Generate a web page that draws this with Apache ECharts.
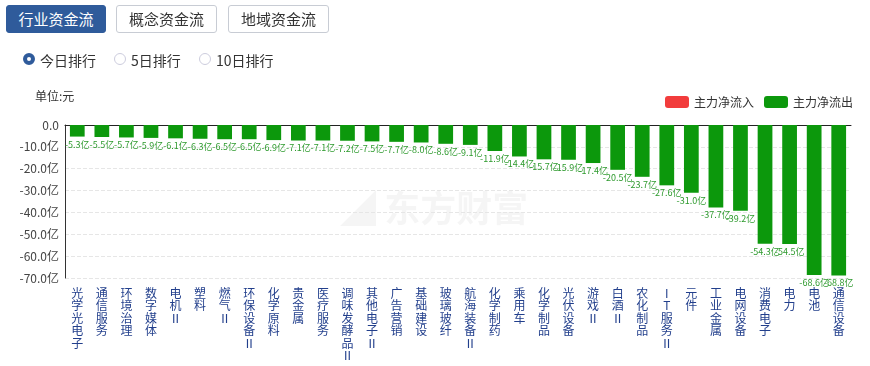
<!DOCTYPE html>
<html><head><meta charset="utf-8">
<script src="https://cdn.jsdelivr.net/npm/echarts@6/dist/echarts.min.js"></script>
<style>
html,body{margin:0;padding:0;background:#fff;font-family:"Noto Sans CJK SC","Noto Sans",sans-serif;}
#wrap{position:relative;width:870px;height:366px;overflow:hidden;}
#chart{position:absolute;left:0;top:0;width:870px;height:366px;}
.tab{position:absolute;top:5px;height:28px;width:99px;border:1px solid #c8ccd4;border-radius:3px;box-sizing:border-box;font-size:15px;line-height:26px;text-align:center;color:#333;background:#fff;z-index:2;}
.tab.on{background:#2f5b9b;border-color:#2f5b9b;color:#fff;}
.radio{position:absolute;top:52px;font-size:14px;color:#333;z-index:2;line-height:16px;}
.radio i{position:absolute;left:-17px;top:1px;width:12px;height:12px;border-radius:50%;border:1px solid #ccd;box-sizing:border-box;background:#fff;}
.radio.on i{border:4px solid #2f5b9b;}
</style></head>
<body><div id="wrap">
<div id="chart"></div>
<div class="tab on" style="left:6px;width:100px">行业资金流</div>
<div class="tab" style="left:116px;width:101px">概念资金流</div>
<div class="tab" style="left:228px;width:101px">地域资金流</div>
<div class="radio on" style="left:40px"><i></i>今日排行</div>
<div class="radio" style="left:131px"><i></i>5日排行</div>
<div class="radio" style="left:216px"><i></i>10日排行</div>
</div>
<script>
const categories = ["光学光电子","通信服务","环境治理","数字媒体","电机Ⅱ","塑料","燃气Ⅱ","环保设备Ⅱ","化学原料","贵金属","医疗服务","调味发酵品Ⅱ","其他电子Ⅱ","广告营销","基础建设","玻璃玻纤","航海装备Ⅱ","化学制药","乘用车","化学制品","光伏设备","游戏Ⅱ","白酒Ⅱ","农化制品","IT服务Ⅱ","元件","工业金属","电网设备","消费电子","电力","电池","通信设备"];
const netFlow = [-5.3,-5.5,-5.7,-5.9,-6.1,-6.3,-6.5,-6.5,-6.9,-7.1,-7.1,-7.2,-7.5,-7.7,-8.0,-8.6,-9.1,-11.9,-14.4,-15.7,-15.9,-17.4,-20.5,-23.7,-27.6,-31.0,-37.7,-39.2,-54.3,-54.5,-68.6,-68.8];
const yTicks = [-70,-60,-50,-40,-30,-20,-10,0];
const legendNames = ["主力净流入","主力净流出"];
const unitText = "单位:元";
const watermark = "东方财富";

const inflow = netFlow.map(v => v > 0 ? v : '-');
const outflow = netFlow.map(v => v < 0 ? v : '-');
const chart = echarts.init(document.getElementById('chart'));
const barLabel = {show:true, position:'bottom', distance:3, fontSize:9, color:'#2e9a2e', fontFamily:'"Noto Sans CJK SC",sans-serif', formatter: p => p.value.toFixed(1) + '亿'};
chart.setOption({
  animation:false,
  textStyle:{fontFamily:'"Noto Sans CJK SC","Noto Sans",sans-serif'},
  graphic:[
    {type:'text', left:35, top:90, style:{text:unitText, fontSize:12, fill:'#333', fontFamily:'"Noto Sans CJK SC",sans-serif'}},
    {type:'text', left:340, top:190, z:-1, style:{text:'◢ ' + watermark, fontSize:36, fontWeight:'bold', fill:'rgba(0,0,0,0.04)', fontFamily:'"Noto Sans CJK SC",sans-serif'}}
  ],
  legend:{right:12, top:91, itemWidth:24, itemHeight:12, itemGap:10, icon:'roundRect', data:legendNames, textStyle:{fontSize:12, color:'#333'}},
  grid:{left:65, right:19, top:125, bottom:88},
  xAxis:[{
    type:'category', data:categories, position:'bottom',
    axisLine:{show:false, onZero:false}, axisTick:{show:false},
    axisLabel:{interval:0, margin:9, fontSize:12, lineHeight:12.5, color:'#223f8c', verticalAlign:'top',
      formatter: v => v.split('').join('\n')}
  },{
    type:'category', data:categories, position:'top',
    axisLine:{show:true, onZero:false, lineStyle:{color:'#222', width:1}}, axisTick:{show:false}, axisLabel:{show:false}
  }],
  yAxis:{type:'value', min:yTicks[0], max:yTicks[yTicks.length-1], interval:10,
    axisLine:{show:true, lineStyle:{color:'#333'}}, axisTick:{show:false},
    axisLabel:{fontSize:12, color:'#444', margin:6, formatter: v => v === 0 ? '0.0' : v.toFixed(1) + '亿'},
    splitLine:{show:true, lineStyle:{color:'#e6e6e6', type:'dashed'}}
  },
  series:[
    {name:legendNames[0], type:'bar', stack:'f', data:inflow, barWidth:'60%', itemStyle:{color:'#f23c3c'}, label:Object.assign({}, barLabel, {position:'top', color:'#f23c3c'})},
    {name:legendNames[1], type:'bar', stack:'f', data:outflow, barWidth:'60%', itemStyle:{color:'#0c980c'}, label:barLabel}
  ]
});
</script>
</body></html>
